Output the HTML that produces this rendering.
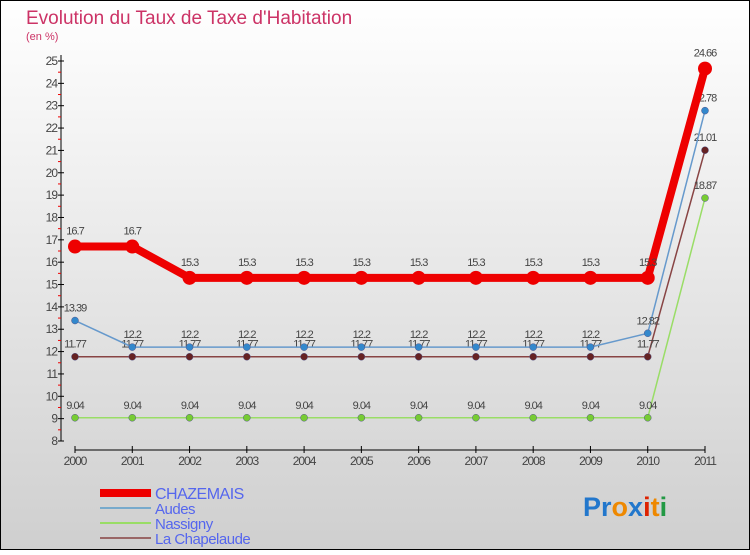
<!DOCTYPE html>
<html><head><meta charset="utf-8"><style>
html,body{margin:0;padding:0}
body{width:750px;height:550px;overflow:hidden;font-family:"Liberation Sans",sans-serif}
</style></head><body>
<svg id="c" width="750" height="550" xmlns="http://www.w3.org/2000/svg">
<defs><linearGradient id="bg" x1="0" y1="0" x2="0" y2="1"><stop offset="0" stop-color="#ffffff"/><stop offset="1" stop-color="#cfcfcf"/></linearGradient></defs>
<rect x="0.5" y="0.5" width="749" height="549" fill="url(#bg)" stroke="#000"/>
<text x="26" y="24" font-size="19" fill="#cc3366">Evolution du Taux de Taxe d'Habitation</text>
<text x="26" y="40" font-size="11" fill="#cc3366">(en %)</text>
<g id="axes"></g>
<g id="series"></g>
<g id="legend"></g>
<text x="583" y="516" font-size="27" font-weight="bold"><tspan fill="#2277cc">Pr</tspan><tspan fill="#ee8800">o</tspan><tspan fill="#2277cc">x</tspan><tspan fill="#dd2200">i</tspan><tspan fill="#ee8800">t</tspan><tspan fill="#229944">i</tspan></text>
</svg>
<script>
const years=["2000","2001","2002","2003","2004","2005","2006","2007","2008","2009","2010","2011"];
const chazemais=[16.7,16.7,15.3,15.3,15.3,15.3,15.3,15.3,15.3,15.3,15.3,24.66];
const audes=[13.39,12.2,12.2,12.2,12.2,12.2,12.2,12.2,12.2,12.2,12.82,22.78];
const nassigny=[9.04,9.04,9.04,9.04,9.04,9.04,9.04,9.04,9.04,9.04,9.04,18.87];
const chapelaude=[11.77,11.77,11.77,11.77,11.77,11.77,11.77,11.77,11.77,11.77,11.77,21.01];
const yTicks=[8,9,10,11,12,13,14,15,16,17,18,19,20,21,22,23,24,25];
const NS="http://www.w3.org/2000/svg";
const X=i=>75+i*(705-75)/(years.length-1);
const Y=v=>441-(v-8)*(441-61)/17;
function mk(tag,attrs,parent,txt){const e=document.createElementNS(NS,tag);for(const k in attrs)e.setAttribute(k,attrs[k]);if(txt!==undefined)e.textContent=txt;parent.appendChild(e);return e;}
const ax=document.getElementById('axes');
let e=mk('line',{x1:61,y1:55,x2:61,y2:441,stroke:'#000'},ax);


yTicks.forEach(v=>{mk('line',{x1:58,y1:Y(v),x2:64,y2:Y(v),stroke:'#000'},ax);
 if(v<25)mk('line',{x1:58,y1:Y(v+0.5),x2:61,y2:Y(v+0.5),stroke:'#e00'},ax);
 const t=mk('text',{x:57,y:Y(v)+4,'font-size':12,fill:'#444','text-anchor':'end','letter-spacing':'-1'},ax,v);
 
 });
e=mk('line',{x1:75,y1:450,x2:705,y2:450,stroke:'#000'},ax);


years.forEach((y,i)=>{mk('line',{x1:X(i),y1:446,x2:X(i),y2:453,stroke:'#000'},ax);
 const t=mk('text',{x:X(i),y:465,'font-size':12,fill:'#444','text-anchor':'middle','letter-spacing':'-1'},ax,y);
 
 });
const sg=document.getElementById('series');
const defs=[
 {name:'la-chapelaude',data:chapelaude,line:'#884444',dot:'#662222',w:1.5,r:3.5},
 {name:'nassigny',data:nassigny,line:'#99dd66',dot:'#77cc33',w:1.5,r:3.5},
 {name:'audes',data:audes,line:'#6699cc',dot:'#3388cc',w:1.5,r:3.5},
 {name:'chazemais',data:chazemais,line:'#ee0000',dot:'#ee0000',w:8,r:7}];
defs.forEach(s=>{
 const g=mk('g',{},sg);
 
 
 const p=mk('polyline',{points:s.data.map((v,i)=>X(i)+','+Y(v)).join(' '),fill:'none',stroke:s.line,'stroke-width':s.w,'stroke-linejoin':'round'},g);
 
 
 s.data.forEach((v,i)=>{const c=mk('circle',{cx:X(i),cy:Y(v),r:s.r,fill:s.dot,stroke:s.w>2?'none':'#558',"stroke-width":0.5},g);
  
  
  const t=mk('text',{x:X(i),y:Y(v)-(s.w>2?12:9),'font-size':11,fill:'#444','text-anchor':'middle','letter-spacing':'-1'},g,String(v));
  
  });
});
const lg=document.getElementById('legend');
const leg=[['CHAZEMAIS','#ee0000',8],['Audes','#77aacc',2],['Nassigny','#99dd66',2],['La Chapelaude','#996666',2]];
leg.forEach((l,i)=>{const yy=493+i*15;
 const g=mk('g',{},lg);
 
 
 mk('line',{x1:100,y1:yy,x2:151,y2:yy,stroke:l[1],'stroke-width':l[2]},g);
 mk('text',{x:155,y:yy+6,'font-size':i==0?16:15,fill:'#5566ee','letter-spacing':'-0.5'},g,l[0]);});
</script>
</body></html>
